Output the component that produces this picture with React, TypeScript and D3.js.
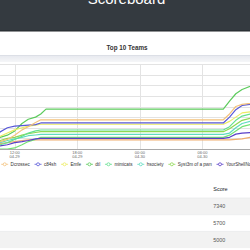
import React, { useMemo } from 'react';
import * as d3 from 'd3';

const TEAMS = ['Dcrossec', 'c84sh', 'Emfe', 'dtl', 'mimicats', 'hsociety', 'Syst3m of a pwn', 'YourShellNotFound', 'Water Paddler', 'Emu Exploit'];
const COLORS = ['#f3c27c', '#5858d8', '#ecec62', '#5ccb5c', '#62e08e', '#5edcc0', '#8ed852', '#5a40c8', '#72e272', '#f0ae6e'];

// hours since 04-29 00:00
const HOURS = [9, 10.6, 11.3, 12, 12.7, 13.3, 14, 14.5, 15, 32, 32.6, 33.2, 33.8, 34.6, 36];

const DCROSSEC = [0, 700, 900, 1300, 1800, 2100, 2500, 2750, 2750, 2750, 3300, 4000, 4200, 4300, 5700];
const C84SH = [0, 1600, 2000, 2150, 2200, 2250, 2300, 2450, 2450, 2450, 3000, 3700, 4100, 4200, 5000];
const EMFE = [0, 1200, 1500, 1800, 2000, 2150, 2250, 2330, 2330, 2330, 2600, 3000, 3400, 3500, 4300];
const DTL = [0, 1100, 1300, 1700, 2400, 2800, 3000, 3300, 3750, 3750, 4500, 5200, 5600, 5900, 7340];
const MIMICATS = [0, 400, 600, 900, 1200, 1500, 1700, 1790, 1790, 1790, 2100, 2700, 3100, 3300, 4000];
const HSOCIETY = [0, 600, 800, 950, 1100, 1250, 1320, 1380, 1380, 1380, 1500, 2000, 2400, 2600, 3300];
const SYST3M = [0, 800, 1000, 1100, 1300, 1450, 1550, 1630, 1630, 1630, 1900, 2300, 2700, 2900, 3600];
const YOURSHELL = [0, 300, 400, 600, 700, 800, 950, 1000, 1000, 1000, 1100, 1400, 1500, 1550, 2500];
const WATERPADDLER = [0, 0, 0, 100, 400, 700, 900, 1100, 1100, 1100, 1300, 1700, 2100, 2300, 3000];
const EMUEXPLOIT = [0, 500, 600, 700, 800, 850, 850, 850, 850, 850, 850, 900, 950, 1100, 2000];

const SERIES = [DCROSSEC, C84SH, EMFE, DTL, MIMICATS, HSOCIETY, SYST3M, YOURSHELL, WATERPADDLER, EMUEXPLOIT];
const Y_TICKS = [1000, 2000, 3000, 4000, 5000, 6000, 7000, 8000];
const TABLE_SCORES = [7340, 5700, 5000];

const FONT = '"Liberation Sans", Arial, sans-serif';
const base = new Date(2023, 3, 29, 0, 0, 0);
const toDate = (h: number) => new Date(base.getTime() + h * 3600 * 1000);

let ctx: CanvasRenderingContext2D | null = null;
function textWidth(s: string, size: number) {
  if (!ctx) ctx = document.createElement('canvas').getContext('2d');
  if (!ctx) return s.length * size * 0.5;
  ctx.font = `${size}px ${FONT}`;
  return ctx.measureText(s).width;
}

export default function App() {
  const W = 250, H = 250;
  const plotTop = 64, plotBottom = 149;

  const x = d3.scaleTime().domain([toDate(10.59), toDate(34.56)]).range([0, W]);
  const y = d3.scaleLinear().domain([0, 8000]).range([plotBottom, plotTop]);
  const xTicks = x.ticks(d3.timeHour.every(6) as d3.TimeInterval);
  const fmtTime = d3.timeFormat('%H:%M');
  const fmtDay = d3.timeFormat('%m-%d');

  const line = d3.line<number>()
    .x((_, i) => x(toDate(HOURS[i])))
    .y((d) => y(d));

  const legendFont = 4.6;
  const legend = useMemo(() => {
    let cx = 1.2;
    return TEAMS.map((t, i) => {
      const item = { x: cx, name: t, color: COLORS[i] };
      cx += 7 + 2.4 + textWidth(t, legendFont) + 4.8;
      return item;
    });
  }, []);

  const rowTop = 198, rowH = 16.7;

  return (
    <svg width={W} height={H} style={{ position: 'absolute', left: 0, top: 0, background: '#fff' }} fontFamily={FONT}>
      <defs>
        <linearGradient id="zoomband" x1="0" y1="0" x2="0" y2="1">
          <stop offset="0" stopColor="#e6e8ee" />
          <stop offset="1" stopColor="#f5f6f8" />
        </linearGradient>
      </defs>

      {/* header */}
      <rect x={0} y={0} width={W} height={31} fill="#343a40" />
      <rect x={0} y={30.5} width={W} height={1} fill="#23272b" />
      <text x={126.5} y={4.3} textAnchor="middle" fill="#fff" fontSize={15}>Scoreboard</text>

      {/* chart title */}
      <text x={127} y={49.5} textAnchor="middle" fill="#333" fontSize={6.3} fontWeight="bold">Top 10 Teams</text>

      {/* top band */}
      <rect x={0} y={55} width={W} height={7} fill="url(#zoomband)" />
      <line x1={0} x2={W} y1={55.5} y2={55.5} stroke="#dcdfe6" />

      {/* grid */}
      {Y_TICKS.map((v) => (
        <line key={v} x1={0} x2={W} y1={Math.round(y(v)) + 0.5} y2={Math.round(y(v)) + 0.5} stroke="#e3e3e3" strokeWidth={1} />
      ))}
      {xTicks.map((t) => (
        <line key={+t} x1={Math.round(x(t)) + 0.5} x2={Math.round(x(t)) + 0.5} y1={plotTop} y2={plotBottom} stroke="#e3e3e3" strokeWidth={1} />
      ))}

      {/* series */}
      {SERIES.map((s, i) => (
        <path key={TEAMS[i]} d={line(s) || ''} fill="none" stroke={COLORS[i]} strokeWidth={1.2} strokeLinejoin="round" />
      )).reverse()}

      {/* x axis */}
      <line x1={0} x2={W} y1={plotBottom + 0.5} y2={plotBottom + 0.5} stroke="#a8a8a8" strokeWidth={1} />
      {xTicks.map((t) => (
        <g key={+t} fill="#666" fontSize={4} textAnchor="middle">
          <text x={x(t)} y={153.6}>{fmtTime(t)}</text>
          <text x={x(t)} y={157.8}>{fmtDay(t)}</text>
        </g>
      ))}

      {/* legend */}
      {legend.map((d) => (
        <g key={d.name}>
          <line x1={d.x} x2={d.x + 7} y1={164.3} y2={164.3} stroke={d.color} strokeWidth={0.8} />
          <circle cx={d.x + 3.5} cy={164.3} r={1.5} fill="#fff" stroke={d.color} strokeWidth={0.8} />
          <text x={d.x + 9.4} y={165.9} fontSize={legendFont} fill="#333">{d.name}</text>
        </g>
      ))}

      {/* table */}
      <text x={213.3} y={191.4} fontSize={5.5} fill="#212529">Score</text>
      {TABLE_SCORES.map((s, i) => (
        <g key={s}>
          <rect x={0} y={rowTop + i * rowH} width={W} height={rowH} fill={i % 2 === 0 ? '#f2f2f2' : '#fff'} />
          <line x1={0} x2={W} y1={rowTop + i * rowH} y2={rowTop + i * rowH} stroke="#e4e6e8" strokeWidth={0.6} />
          <text x={213.3} y={rowTop + i * rowH + 10.2} fontSize={5.4} fill="#555">{s}</text>
        </g>
      ))}
    </svg>
  );
}
